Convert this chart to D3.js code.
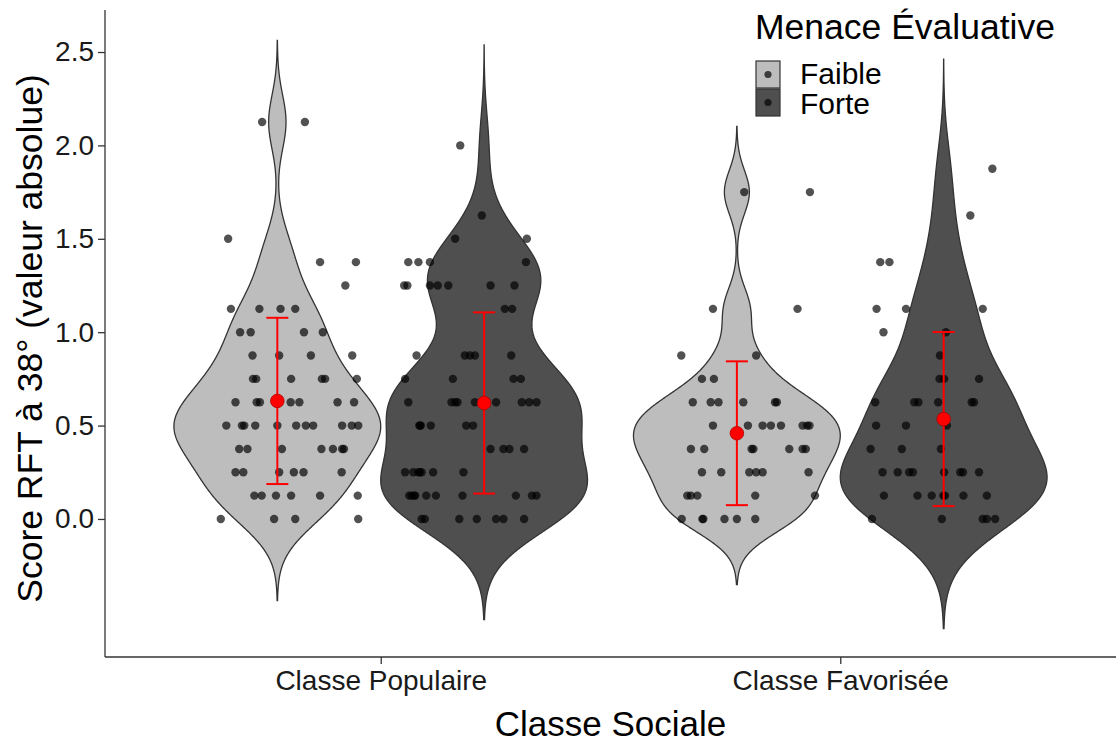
<!DOCTYPE html>
<html>
<head>
<meta charset="utf-8">
<script src="https://cdn.jsdelivr.net/npm/d3@7"></script>
<style>
  html, body { margin: 0; padding: 0; background: #fff; }
  svg { display: block; font-family: "Liberation Sans", Arial, Helvetica, sans-serif; }
</style>
</head>
<body>
<svg id="chart" width="1116" height="745"></svg>
<script>
// ---------------- DATA ----------------
const categories = ["Classe Populaire", "Classe Favorisée"];
const menaceLevels = ["Faible", "Forte"];
const yTicks = [0.0, 0.5, 1.0, 1.5, 2.0, 2.5];
const yDomain = [-0.739, 2.725];

// rows: [score, [horizontal jitter of each point at that score, in category units]]
const faiblePopulaire = [
  [2.125, [-0.033, 0.060]],
  [1.5,   [-0.107]],
  [1.375, [0.093, 0.171]],
  [1.25,  [0.148]],
  [1.125, [-0.101, -0.039, 0.007, 0.039]],
  [1.0,   [-0.081, -0.058, 0.058, 0.099]],
  [0.875, [-0.054, 0.004, 0.073, 0.163]],
  [0.75,  [-0.053, -0.046, 0.030, 0.097, 0.104, 0.173]],
  [0.625, [-0.091, -0.045, -0.038, 0.029, 0.048, 0.131, 0.167]],
  [0.5,   [-0.111, -0.077, -0.072, -0.048, 0.000, 0.041, 0.062, 0.078, 0.141, 0.162, 0.176]],
  [0.375, [-0.083, -0.065, 0.010, 0.096, 0.121, 0.141, 0.145]],
  [0.25,  [-0.091, -0.074, 0.004, 0.036, 0.057, 0.140]],
  [0.125, [-0.050, -0.034, -0.003, 0.030, 0.093, 0.175]],
  [0.0,   [-0.123, -0.007, 0.039, 0.176]]
];
const fortePopulaire = [
  [2.0,   [-0.052]],
  [1.625, [-0.005]],
  [1.5,   [-0.063, 0.093]],
  [1.375, [-0.165, -0.143, -0.118, 0.091]],
  [1.25,  [-0.174, -0.167, -0.118, -0.101, -0.078, 0.014, 0.066]],
  [1.125, [0.045, 0.061]],
  [0.875, [-0.147, -0.042, -0.031, -0.020, 0.059]],
  [0.75,  [-0.172, -0.068, 0.064, 0.080]],
  [0.625, [-0.165, -0.071, -0.063, -0.058, -0.020, 0.002, 0.026, 0.082, 0.098, 0.114]],
  [0.5,   [-0.141, -0.139, -0.138, -0.116, -0.039, -0.024]],
  [0.375, [0.014, 0.042, 0.055, 0.087]],
  [0.25,  [-0.172, -0.154, -0.143, -0.140, -0.136, -0.111, -0.045]],
  [0.125, [-0.163, -0.158, -0.152, -0.150, -0.126, -0.105, -0.047, 0.069, 0.104, 0.114]],
  [0.0,   [-0.136, -0.129, -0.054, -0.016, 0.026, 0.042, 0.087]]
];
const faibleFavorisee = [
  [1.75,  [0.016, 0.159]],
  [1.125, [-0.052, 0.132]],
  [0.875, [-0.121, 0.042]],
  [0.75,  [-0.076, -0.050]],
  [0.625, [-0.096, -0.057, -0.040, 0.014, 0.083, 0.087]],
  [0.5,   [-0.052, 0.024, 0.056, 0.074, 0.096, 0.143, 0.153, 0.158]],
  [0.375, [-0.100, -0.071, 0.032, 0.036, 0.114, 0.143, 0.150]],
  [0.25,  [-0.076, -0.034, 0.027, 0.042, 0.056, 0.156]],
  [0.125, [-0.108, -0.100, -0.086, 0.040, 0.170]],
  [0.0,   [-0.120, -0.075, -0.073, -0.027, 0.000, 0.040]]
];
const forteFavorisee = [
  [1.875, [0.106]],
  [1.625, [0.058]],
  [1.375, [-0.138, -0.118]],
  [1.125, [-0.146, -0.082, 0.085]],
  [1.0,   [-0.131, 0.005]],
  [0.875, [-0.008]],
  [0.75,  [-0.009, 0.001, 0.077]],
  [0.625, [-0.149, -0.064, -0.055, -0.012, 0.061, 0.066]],
  [0.5,   [-0.147, -0.082, 0.007]],
  [0.375, [-0.159, -0.091, -0.006]],
  [0.25,  [-0.133, -0.100, -0.075, -0.067, 0.001, 0.036, 0.042, 0.077]],
  [0.125, [-0.130, -0.057, -0.026, -0.001, 0.003, 0.043, 0.094]],
  [0.0,   [-0.156, -0.004, 0.085, 0.094, 0.112]]
];

// mean and standard deviation (error bars = mean ± SD)
const groupMeans = [0.632, 0.621, 0.459, 0.535];
const groupSD    = [0.445, 0.485, 0.385, 0.466];

const groups = [
  { cat: categories[0], level: "Faible", rows: faiblePopulaire },
  { cat: categories[0], level: "Forte",  rows: fortePopulaire },
  { cat: categories[1], level: "Faible", rows: faibleFavorisee },
  { cat: categories[1], level: "Forte",  rows: forteFavorisee }
];

// ---------------- STYLE ----------------
const fills = { "Faible": "#bdbdbd", "Forte": "#4f4f4f" };
const M = { left: 105, right: 1116, top: 10, bottom: 657 };

const svg = d3.select("#chart");

const x = d3.scalePoint().domain(categories).range([M.left, M.right]).padding(0.6);
const unit = x.step();
const y = d3.scaleLinear().domain(yDomain).range([M.bottom, M.top]);

const dodge = { "Faible": -0.225, "Forte": 0.225 };
const halfWidth = 0.225;

function nrd0(vals) {
  const s = vals.slice().sort(d3.ascending);
  const sd = d3.deviation(s);
  const iqr = d3.quantileSorted(s, 0.75) - d3.quantileSorted(s, 0.25);
  let lo = Math.min(sd, iqr / 1.34);
  if (!(lo > 0)) lo = sd || 1;
  return 0.9 * lo * Math.pow(s.length, -0.2);
}

groups.forEach((g, gi) => {
  g.values = [];
  g.points = [];
  g.rows.forEach(([v, js]) => js.forEach(j => { g.values.push(v); g.points.push({ v, j }); }));
  g.center = x(g.cat) + dodge[g.level] * unit;
  const bw = nrd0(g.values);
  const lo = d3.min(g.values) - 3 * bw, hi = d3.max(g.values) + 3 * bw;
  const n = 512;
  const grid = d3.range(n).map(i => lo + (hi - lo) * i / (n - 1));
  const dens = grid.map(t => d3.mean(g.values, v => Math.exp(-0.5 * ((t - v) / bw) ** 2)));
  const maxD = d3.max(dens);
  g.kde = grid.map((t, i) => ({ t, w: dens[i] / maxD }));
  g.mean = groupMeans[gi];
  g.sd = groupSD[gi];
});

// violins
groups.forEach(g => {
  const a = d3.area()
    .y(d => y(d.t))
    .x0(d => g.center - d.w * halfWidth * unit)
    .x1(d => g.center + d.w * halfWidth * unit);
  svg.append("path")
    .attr("d", a(g.kde))
    .attr("fill", fills[g.level])
    .attr("stroke", "#333333")
    .attr("stroke-width", 1.3);
});

// points
groups.forEach(g => {
  svg.append("g").selectAll("circle")
    .data(g.points)
    .join("circle")
    .attr("cx", d => g.center + d.j * unit)
    .attr("cy", d => y(d.v))
    .attr("r", 4.2)
    .attr("fill", "#000")
    .attr("fill-opacity", 0.68);
});

// error bars + means
groups.forEach(g => {
  const eg = svg.append("g");
  const capHalf = 11;
  eg.append("line")
    .attr("x1", g.center).attr("x2", g.center)
    .attr("y1", y(g.mean - g.sd)).attr("y2", y(g.mean + g.sd))
    .attr("stroke", "#ff0000").attr("stroke-width", 2);
  [g.mean - g.sd, g.mean + g.sd].forEach(v => {
    eg.append("line")
      .attr("x1", g.center - capHalf).attr("x2", g.center + capHalf)
      .attr("y1", y(v)).attr("y2", y(v))
      .attr("stroke", "#ff0000").attr("stroke-width", 2);
  });
  eg.append("circle")
    .attr("cx", g.center).attr("cy", y(g.mean))
    .attr("r", 6.8)
    .attr("fill", "#ff0000")
    .attr("stroke", "#b00000").attr("stroke-width", 0.8);
});

// axes
const yAxis = d3.axisLeft(y).tickValues(yTicks).tickFormat(d3.format(".1f")).tickSize(7).tickPadding(4);
const yg = svg.append("g").attr("transform", `translate(${M.left},0)`).call(yAxis);
yg.select(".domain").attr("d", `M0,${M.top}V${M.bottom}`).attr("stroke", "#333").attr("stroke-width", 1.3);
yg.selectAll(".tick line").attr("stroke", "#333").attr("stroke-width", 1.3);
yg.selectAll(".tick text").attr("font-size", 28).attr("fill", "#1a1a1a")
  .attr("font-family", "Liberation Sans, Arial, sans-serif");

const xAxis = d3.axisBottom(x).tickSize(7).tickPadding(6);
const xg = svg.append("g").attr("transform", `translate(0,${M.bottom})`).call(xAxis);
xg.select(".domain").attr("d", `M${M.left},0H${M.right}`).attr("stroke", "#333").attr("stroke-width", 1.3);
xg.selectAll(".tick line").attr("stroke", "#333").attr("stroke-width", 1.3);
xg.selectAll(".tick text").attr("font-size", 28).attr("fill", "#1a1a1a")
  .attr("font-family", "Liberation Sans, Arial, sans-serif");

// axis titles
svg.append("text")
  .attr("x", (M.left + M.right) / 2).attr("y", 736)
  .attr("text-anchor", "middle").attr("font-size", 35).attr("fill", "#000")
  .text("Classe Sociale");
svg.append("text")
  .attr("transform", `translate(42,${(M.top + M.bottom) / 2 + 5}) rotate(-90)`)
  .attr("text-anchor", "middle").attr("font-size", 35.5).attr("fill", "#000")
  .text("Score RFT à 38° (valeur absolue)");

// legend
const lg = svg.append("g");
lg.append("text").attr("x", 755).attr("y", 39).attr("font-size", 35.5).attr("fill", "#000")
  .text("Menace Évaluative");
menaceLevels.forEach((lvl, i) => {
  const ky = 61 + i * 28;
  lg.append("rect").attr("x", 756).attr("y", ky).attr("width", 24).attr("height", 27)
    .attr("fill", fills[lvl]).attr("stroke", "#333").attr("stroke-width", 1.2);
  lg.append("circle").attr("cx", 768).attr("cy", ky + 13.5).attr("r", 3.6)
    .attr("fill", "#000").attr("fill-opacity", 0.68);
  lg.append("text").attr("x", 800).attr("y", ky + 13.5 + (i === 0 ? -1 : 1)).attr("dy", "0.35em")
    .attr("font-size", 30).attr("fill", "#000").text(lvl);
});
</script>
</body>
</html>
